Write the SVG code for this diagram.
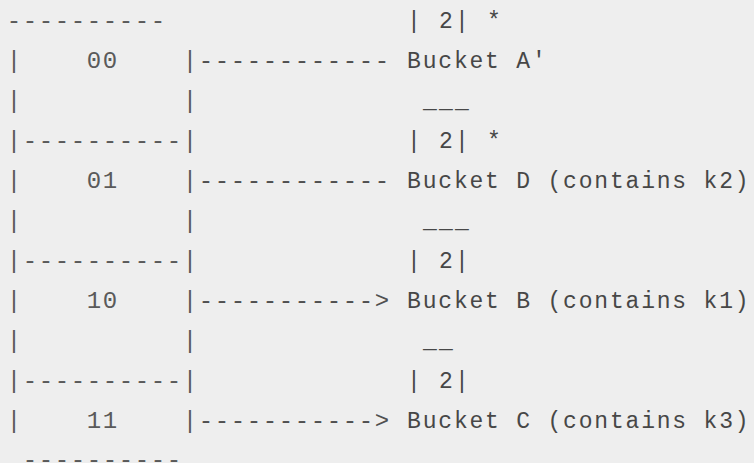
<svg xmlns="http://www.w3.org/2000/svg" width="754" height="463" viewBox="0 0 754 463" xml:space="preserve">
<style>
text{font-family:"Liberation Mono","DejaVu Sans Mono",monospace;font-size:24px;letter-spacing:1.6px;fill:#505050;white-space:pre}
.dir{fill:#5a5a5a}
.bk{font-size:23px;letter-spacing:2.2px;fill:#474747}
.lbl{font-size:23px;letter-spacing:1.8px;fill:#474747}
.end{letter-spacing:0}
</style>
<rect width="754" height="463" fill="#eeeeee"/>
<g id="directory">
<text class="dir" x="6.8" y="28">----------</text>
<g id="cell-00">
<text class="dir" x="6.8" y="68">|    00    |</text>
<text class="dir" x="6.8" y="108">|          |</text>
</g>
<text class="dir" x="6.8" y="148">|----------|</text>
<g id="cell-01">
<text class="dir" x="6.8" y="188">|    01    |</text>
<text class="dir" x="6.8" y="228">|          |</text>
</g>
<text class="dir" x="6.8" y="268">|----------|</text>
<g id="cell-10">
<text class="dir" x="6.8" y="308">|    10    |</text>
<text class="dir" x="6.8" y="348">|          |</text>
</g>
<text class="dir" x="6.8" y="388">|----------|</text>
<g id="cell-11">
<text class="dir" x="6.8" y="428">|    11    |</text>
</g>
<text class="dir" x="6.8" y="467"> ----------</text>
</g>
<g id="connectors">
<text x="198.8" y="68">------------</text>
<text x="198.8" y="188">------------</text>
<text x="198.8" y="308">-----------&gt;</text>
<text x="198.8" y="428">-----------&gt;</text>
</g>
<g id="bucket-a">
<text class="bk" x="407.1" y="28">| 2| *</text>
<text class="lbl" x="407.1" y="68">Bucket A<tspan class="end">'</tspan></text>
</g>
<g id="bucket-d">
<text class="bk" x="423.1" y="108">___</text>
<text class="bk" x="407.1" y="148">| 2| *</text>
<text class="lbl" x="407.1" y="188">Bucket D (contains k2<tspan class="end">)</tspan></text>
</g>
<g id="bucket-b">
<text class="bk" x="423.1" y="228">___</text>
<text class="bk" x="407.1" y="268">| 2|</text>
<text class="lbl" x="407.1" y="308">Bucket B (contains k1<tspan class="end">)</tspan></text>
</g>
<g id="bucket-c">
<text class="bk" x="423.1" y="348">__</text>
<text class="bk" x="407.1" y="388">| 2|</text>
<text class="lbl" x="407.1" y="428">Bucket C (contains k3<tspan class="end">)</tspan></text>
</g>
</svg>
